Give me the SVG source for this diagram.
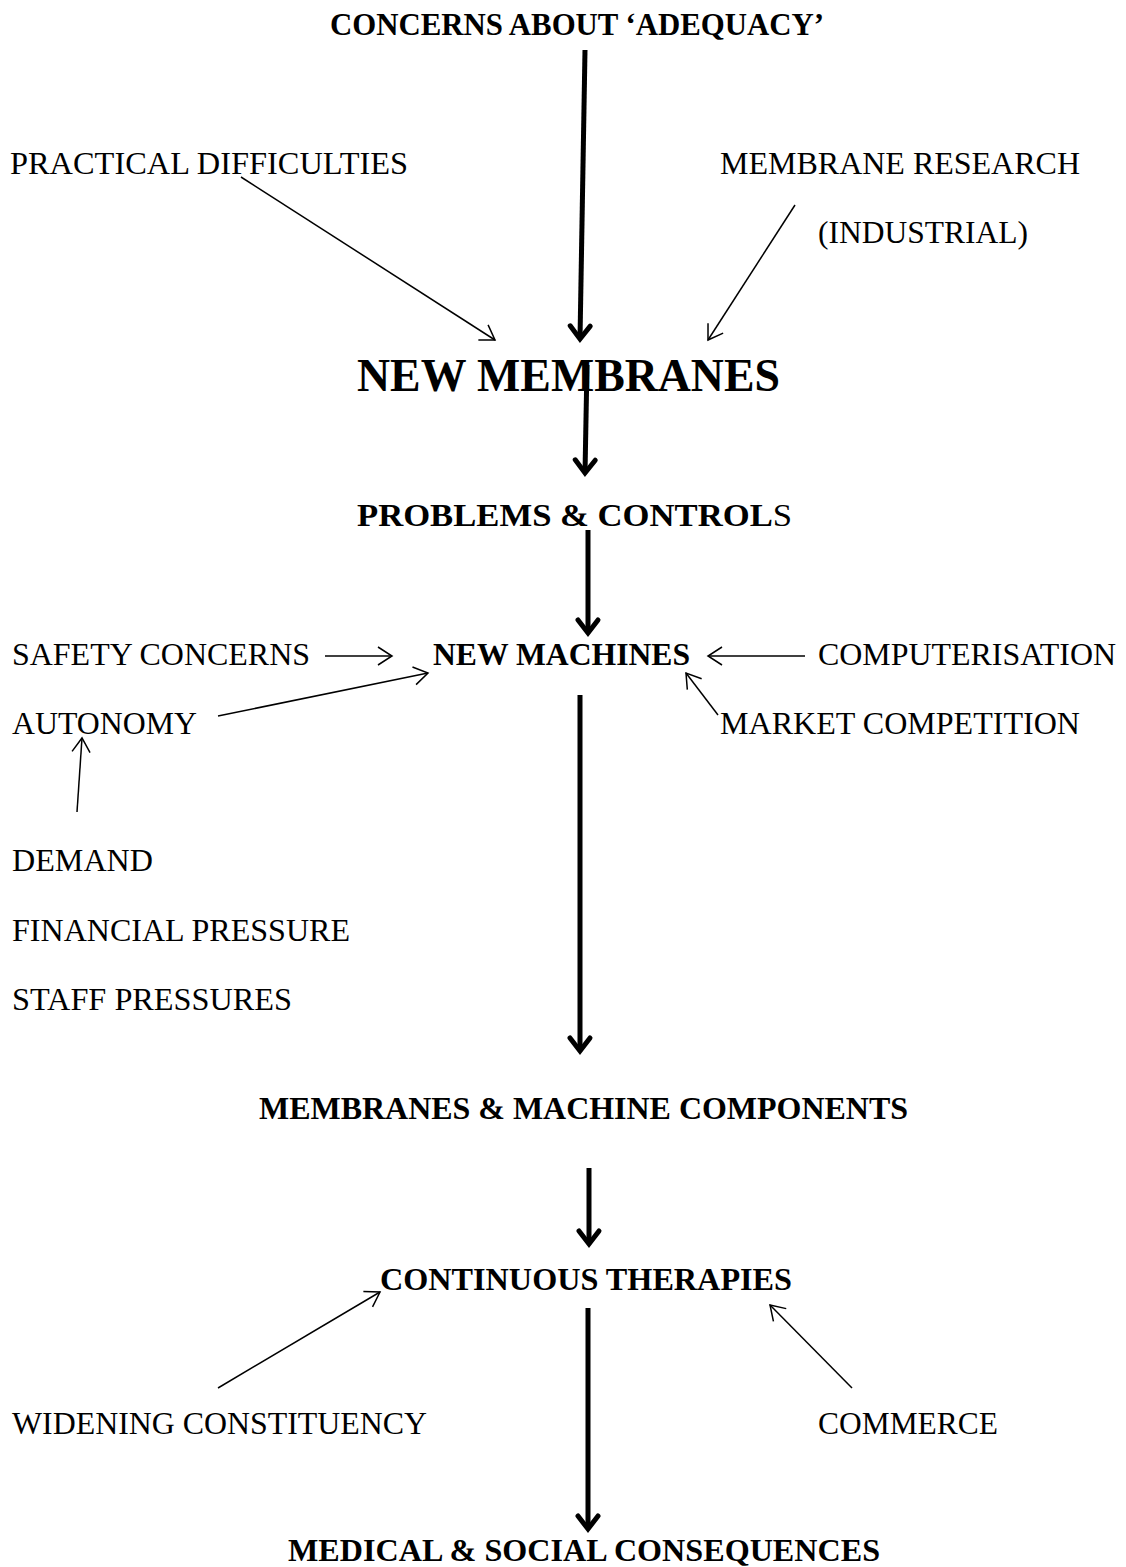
<svg xmlns="http://www.w3.org/2000/svg" width="1126" height="1567" viewBox="0 0 1126 1567">
<style>
text { font-family: "Liberation Serif", "Times New Roman", serif; font-size: 32px; fill: #000; }
.b { font-weight: bold; }
.big { font-weight: bold; font-size: 46px; }
.thick { stroke: #000; stroke-width: 5; fill: none; marker-end: url(#hb); }
.thin { stroke: #000; stroke-width: 1.5; fill: none; marker-end: url(#hs); }
</style>
<defs>
<marker id="hb" markerUnits="userSpaceOnUse" markerWidth="40" markerHeight="40" viewBox="-20 -20 40 40" refX="0" refY="0" orient="auto" overflow="visible">
<path d="M-13,-10 L0,0 L-13,10" fill="none" stroke="#000" stroke-width="5" stroke-linejoin="miter" stroke-linecap="round"/>
</marker>
<marker id="hs" markerUnits="userSpaceOnUse" markerWidth="40" markerHeight="40" viewBox="-20 -20 40 40" refX="0" refY="0" orient="auto" overflow="visible">
<path d="M-14,-9 L0,0 L-14,9" fill="none" stroke="#000" stroke-width="1.5"/>
</marker>
</defs>
<g id="connectors">
<line class="thick" x1="585" y1="50" x2="580" y2="339"/>
<line class="thick" x1="587" y1="365" x2="585" y2="473"/>
<line class="thick" x1="588" y1="530" x2="588" y2="633"/>
<line class="thick" x1="580" y1="695" x2="580" y2="1051"/>
<line class="thick" x1="589" y1="1168" x2="589" y2="1244"/>
<line class="thick" x1="588" y1="1308" x2="588" y2="1529"/>
<line class="thin" x1="241" y1="177" x2="495" y2="340"/>
<line class="thin" x1="795" y1="205" x2="708" y2="340"/>
<line class="thin" x1="325" y1="656" x2="392" y2="656"/>
<line class="thin" x1="805" y1="656" x2="708" y2="656"/>
<line class="thin" x1="218" y1="716" x2="428" y2="673"/>
<line class="thin" x1="718" y1="715" x2="686" y2="673"/>
<line class="thin" x1="77" y1="812" x2="82" y2="738"/>
<line class="thin" x1="218" y1="1388" x2="380" y2="1292"/>
<line class="thin" x1="852" y1="1388" x2="770" y2="1305"/>
</g>
<g id="concerns"><text class="b" x="330" y="35" textLength="494" lengthAdjust="spacingAndGlyphs">CONCERNS ABOUT ‘ADEQUACY’</text></g>
<g id="practical"><text x="10" y="174" textLength="398" lengthAdjust="spacingAndGlyphs">PRACTICAL DIFFICULTIES</text></g>
<g id="membrane-research"><text x="720" y="174" textLength="360" lengthAdjust="spacingAndGlyphs">MEMBRANE RESEARCH</text>
<text x="818" y="243" textLength="210" lengthAdjust="spacingAndGlyphs">(INDUSTRIAL)</text></g>
<g id="new-membranes"><text class="big" x="357" y="391" textLength="423" lengthAdjust="spacingAndGlyphs">NEW MEMBRANES</text></g>
<g id="problems"><text class="b" x="357" y="526" textLength="435" lengthAdjust="spacingAndGlyphs">PROBLEMS &amp; CONTROL<tspan font-weight="normal">S</tspan></text></g>
<g id="safety"><text x="12" y="665" textLength="298" lengthAdjust="spacingAndGlyphs">SAFETY CONCERNS</text></g>
<g id="new-machines"><text class="b" x="433" y="665" textLength="257" lengthAdjust="spacingAndGlyphs">NEW MACHINES</text></g>
<g id="computerisation"><text x="818" y="665" textLength="298" lengthAdjust="spacingAndGlyphs">COMPUTERISATION</text></g>
<g id="autonomy"><text x="12" y="734" textLength="185" lengthAdjust="spacingAndGlyphs">AUTONOMY</text></g>
<g id="market"><text x="720" y="734" textLength="360" lengthAdjust="spacingAndGlyphs">MARKET COMPETITION</text></g>
<g id="demand"><text x="12" y="871" textLength="141" lengthAdjust="spacingAndGlyphs">DEMAND</text></g>
<g id="financial"><text x="12" y="941" textLength="338" lengthAdjust="spacingAndGlyphs">FINANCIAL PRESSURE</text></g>
<g id="staff"><text x="12" y="1010" textLength="280" lengthAdjust="spacingAndGlyphs">STAFF PRESSURES</text></g>
<g id="components"><text class="b" x="259" y="1119" textLength="649" lengthAdjust="spacingAndGlyphs">MEMBRANES &amp; MACHINE COMPONENTS</text></g>
<g id="continuous"><text class="b" x="380" y="1290" textLength="412" lengthAdjust="spacingAndGlyphs">CONTINUOUS THERAPIES</text></g>
<g id="widening"><text x="12" y="1434" textLength="415" lengthAdjust="spacingAndGlyphs">WIDENING CONSTITUENCY</text></g>
<g id="commerce"><text x="818" y="1434" textLength="180" lengthAdjust="spacingAndGlyphs">COMMERCE</text></g>
<g id="medical"><text class="b" x="288" y="1561" textLength="592" lengthAdjust="spacingAndGlyphs">MEDICAL &amp; SOCIAL CONSEQUENCES</text></g>
</svg>
